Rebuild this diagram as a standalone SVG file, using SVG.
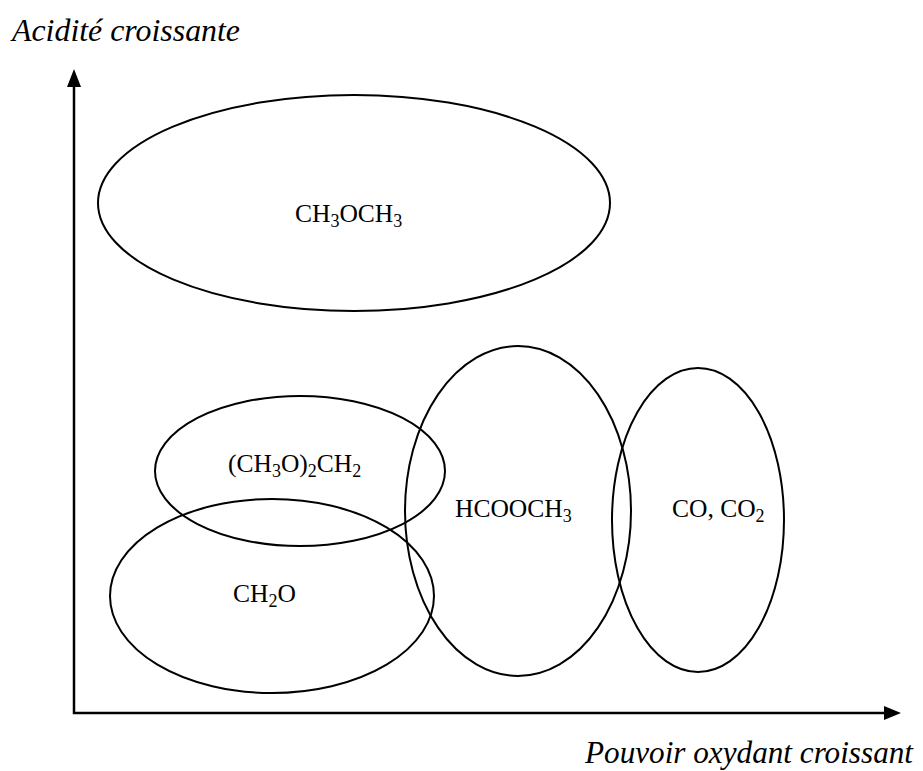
<svg xmlns="http://www.w3.org/2000/svg" width="923" height="771" viewBox="0 0 923 771">
<style>
.e{fill:none;stroke:#000;stroke-width:2}
.ax{stroke:#000;stroke-width:2.5;fill:none}
.lbl{font-family:"Liberation Serif","Times New Roman",serif;font-size:25.5px;fill:#000}
.ttl{font-family:"Liberation Serif","Times New Roman",serif;font-style:italic;font-size:31px;fill:#000}
.s{font-size:18px}
</style>
<g id="axes">
<polyline class="ax" points="74,84 74,713 888,713"/>
<polygon points="74,69 67,87 81,87" fill="#000"/>
<polygon points="901,713 884,706 884,720" fill="#000"/>
</g>
<text class="ttl" x="12" y="41" textLength="228" lengthAdjust="spacingAndGlyphs">Acidité croissante</text>
<text class="ttl" x="585" y="763" textLength="328" lengthAdjust="spacingAndGlyphs">Pouvoir oxydant croissant</text>
<g id="n1"><ellipse class="e" cx="354" cy="203" rx="256" ry="108"/>
<text class="lbl" x="295" y="222">CH<tspan class="s" dy="5">3</tspan><tspan dy="-5">OCH</tspan><tspan class="s" dy="5">3</tspan></text></g>
<g id="n2"><ellipse class="e" cx="300" cy="471" rx="145" ry="75"/>
<text class="lbl" x="228" y="472">(CH<tspan class="s" dy="5">3</tspan><tspan dy="-5">O)</tspan><tspan class="s" dy="5">2</tspan><tspan dy="-5">CH</tspan><tspan class="s" dy="5">2</tspan></text></g>
<g id="n3"><ellipse class="e" cx="272" cy="596" rx="162" ry="97"/>
<text class="lbl" x="233" y="602">CH<tspan class="s" dy="5">2</tspan><tspan dy="-5">O</tspan></text></g>
<g id="n4"><ellipse class="e" cx="518" cy="511" rx="113" ry="165"/>
<text class="lbl" x="455" y="517">HCOOCH<tspan class="s" dy="5">3</tspan></text></g>
<g id="n5"><ellipse class="e" cx="698" cy="520" rx="86" ry="152"/>
<text class="lbl" x="672" y="517">CO, CO<tspan class="s" dy="5">2</tspan></text></g>
</svg>
